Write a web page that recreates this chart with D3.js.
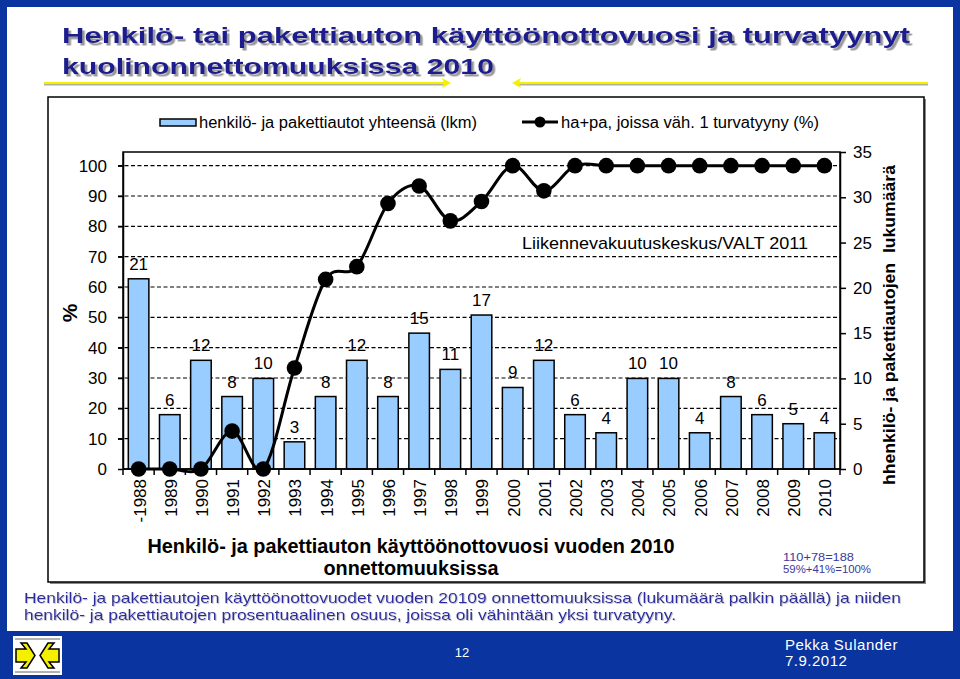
<!DOCTYPE html>
<html><head><meta charset="utf-8">
<script src="https://cdn.jsdelivr.net/npm/d3@7"></script>
<style>
html,body{margin:0;padding:0;background:#0a34a0;}
svg{display:block;}
text{font-family:"Liberation Sans",Arial,sans-serif;}
</style></head>
<body>
<svg id="c" width="960" height="679"></svg>
<script>
const categories = ["-1988","1989","1990","1991","1992","1993","1994","1995","1996","1997","1998","1999","2000","2001","2002","2003","2004","2005","2006","2007","2008","2009","2010"];
const counts = [21,6,12,8,10,3,8,12,8,15,11,17,9,12,6,4,10,10,4,8,6,5,4];
const percents = [0,0,0,12.5,0,33.3,62.5,66.7,87.5,93.3,81.8,88.2,100,91.7,100,100,100,100,100,100,100,100,100];
const leftTicks = [0,10,20,30,40,50,60,70,80,90,100];
const rightTicks = [0,5,10,15,20,25,30,35];
const titleLines = ["Henkilö- tai pakettiauton käyttöönottovuosi ja turvatyynyt","kuolinonnettomuuksissa 2010"];
const legendBar = "henkilö- ja pakettiautot yhteensä (lkm)";
const legendLine = "ha+pa, joissa väh. 1 turvatyyny (%)";
const sourceText = "Liikennevakuutuskeskus/VALT 2011";
const leftTitle = "%";
const rightTitle = "hhenkilö- ja pakettiautojen  lukumäärä";
const captionLines = ["Henkilö- ja pakettiauton käyttöönottovuosi vuoden 2010","onnettomuuksissa"];
const noteLines = ["110+78=188","59%+41%=100%"];
const footLines = ["Henkilö- ja pakettiautojen käyttöönottovuodet vuoden 20109 onnettomuuksissa (lukumäärä palkin päällä) ja niiden","henkilö- ja pakettiautojen prosentuaalinen osuus, joissa oli vähintään yksi turvatyyny."];
const pageNo = "12";
const authorLines = ["Pekka Sulander","7.9.2012"];

const svg = d3.select("#c");
const NAVY = "#1c1c8e";
const defs = svg.append("defs");
const f1 = defs.append("filter").attr("id","tshadow").attr("x","-5%").attr("y","-20%").attr("width","110%").attr("height","150%");
f1.append("feDropShadow").attr("dx",2.5).attr("dy",2.5).attr("stdDeviation",0.6).attr("flood-color","#999").attr("flood-opacity",1);
const f2 = defs.append("filter").attr("id","fshadow").attr("x","-5%").attr("y","-20%").attr("width","110%").attr("height","150%");
f2.append("feDropShadow").attr("dx",0.8).attr("dy",0.8).attr("stdDeviation",0.3).attr("flood-color","#b8b8c8").attr("flood-opacity",1);

// slide background
svg.append("rect").attr("x",0).attr("y",0).attr("width",960).attr("height",679).attr("fill","#0a34a0");
svg.append("rect").attr("x",7).attr("y",7).attr("width",946).attr("height",624).attr("fill","#ffffff");

// title with shadow
titleLines.forEach((t,i)=>{
  const y = [43,74][i];
  const len = [848,432][i];
  svg.append("text").attr("x",62).attr("y",y).text(t)
    .attr("font-family","DejaVu Sans").attr("font-weight","bold").attr("font-size",22)
    .attr("fill",NAVY).attr("filter","url(#tshadow)")
    .attr("textLength",len).attr("lengthAdjust","spacingAndGlyphs");
});
// yellow rule with arrows
function yline(x1,x2,y,col,w){svg.append("line").attr("x1",x1).attr("x2",x2).attr("y1",y).attr("y2",y).attr("stroke",col).attr("stroke-width",w);}
yline(44,446,84.5,"#b0b0a0",2); yline(516,928,84.5,"#b0b0a0",2);
yline(44,446,83,"#f2f200",2); yline(516,928,83,"#f2f200",2);
svg.append("path").attr("d","M442,78 L451,83 L442,88 L444,83 Z").attr("fill","#f2f200");
svg.append("path").attr("d","M521,78 L512,83 L521,88 L519,83 Z").attr("fill","#f2f200");

// chart box
svg.append("rect").attr("x",50).attr("y",99).attr("width",876).attr("height",485).attr("fill","#888");
svg.append("rect").attr("x",48).attr("y",97).attr("width",876).attr("height",485).attr("fill","#fff").attr("stroke","#000").attr("stroke-width",1.5);

// plot
const L=123,R=840,T=152,B=469;
const x = d3.scaleBand().domain(categories).range([L,R]).paddingInner(0.34).paddingOuter(0.17);
const yL = d3.scaleLinear().domain([0,104.5]).range([B,T]);
const yR = d3.scaleLinear().domain([0,35]).range([B,T]);
const g = svg.append("g");

// gridlines
g.selectAll("line.grid").data(leftTicks.filter(d=>d>0)).join("line")
  .attr("x1",L-5).attr("x2",R).attr("y1",d=>yL(d)).attr("y2",d=>yL(d))
  .attr("stroke","#000").attr("stroke-width",1.2).attr("stroke-dasharray","4,2.5");

// bars
g.selectAll("rect.bar").data(counts).join("rect")
  .attr("x",(d,i)=>x(categories[i])).attr("width",x.bandwidth())
  .attr("y",d=>yR(d)).attr("height",d=>B-yR(d))
  .attr("fill","#99ccff").attr("stroke","#000").attr("stroke-width",1.5);
// bar labels
g.selectAll("text.bl").data(counts).join("text")
  .attr("x",(d,i)=>x(categories[i])+x.bandwidth()/2).attr("y",d=>yR(d)-9)
  .attr("text-anchor","middle").attr("font-size",17).attr("fill","#000").text(d=>d);

// plot border
g.append("rect").attr("x",L).attr("y",T).attr("width",R-L).attr("height",B-T)
  .attr("fill","none").attr("stroke","#000").attr("stroke-width",1.5);

// axes
const axL = g.append("g").attr("transform",`translate(${L},0)`)
  .call(d3.axisLeft(yL).tickValues(leftTicks).tickSize(5).tickSizeOuter(0).tickPadding(11));
const axR = g.append("g").attr("transform",`translate(${R},0)`)
  .call(d3.axisRight(yR).tickValues(rightTicks).tickSize(6).tickSizeOuter(0).tickPadding(7));
[axL,axR].forEach(a=>{
  a.select(".domain").attr("stroke","#000").attr("stroke-width",1.5);
  a.selectAll(".tick line").attr("stroke","#000").attr("stroke-width",1.5);
  a.selectAll(".tick text").attr("font-size",17).attr("font-family","Liberation Sans, Arial").attr("fill","#000");
});
// x axis
g.append("line").attr("x1",L).attr("x2",R).attr("y1",B).attr("y2",B).attr("stroke","#000").attr("stroke-width",1.5);
const step = x.step();
g.selectAll("line.xt").data(d3.range(categories.length+1)).join("line")
  .attr("x1",i=>L+i*step).attr("x2",i=>L+i*step).attr("y1",B).attr("y2",B+6)
  .attr("stroke","#000").attr("stroke-width",1.5);
g.selectAll("text.xl").data(categories).join("text")
  .attr("transform",d=>`translate(${x(d)+x.bandwidth()/2+1},${B+10}) rotate(-90)`)
  .attr("text-anchor","end").attr("dy","0.35em").attr("font-size",17).attr("fill","#000").text(d=>d);

// line
const pts = percents.map((p,i)=>[x(categories[i])+x.bandwidth()/2, yL(p)]);
g.append("path").attr("d",d3.line().curve(d3.curveCardinal.tension(0))(pts))
  .attr("fill","none").attr("stroke","#000").attr("stroke-width",3);
g.selectAll("circle.m").data(pts).join("circle")
  .attr("cx",d=>d[0]).attr("cy",d=>d[1]).attr("r",7.8).attr("fill","#000");

// source
g.append("text").attr("x",522).attr("y",249).attr("font-size",17).attr("fill","#000")
  .attr("textLength",286).attr("lengthAdjust","spacingAndGlyphs").text(sourceText);

// axis titles
svg.append("text").attr("transform","translate(77,313) rotate(-90)").attr("text-anchor","middle")
  .attr("font-size",21).attr("font-weight","bold").text(leftTitle);
svg.append("text").attr("transform","translate(895,325) rotate(-90)").attr("text-anchor","middle")
  .attr("font-size",16).attr("font-weight","bold").attr("xml:space","preserve").style("white-space","pre")
  .attr("textLength",320).attr("lengthAdjust","spacingAndGlyphs").text(rightTitle);

// legend
svg.append("rect").attr("x",160).attr("y",119).attr("width",36).attr("height",7)
  .attr("fill","#99ccff").attr("stroke","#000").attr("stroke-width",1.5);
svg.append("text").attr("x",199).attr("y",128).attr("font-size",16).attr("textLength",278).attr("lengthAdjust","spacingAndGlyphs").text(legendBar);
svg.append("line").attr("x1",522).attr("x2",558).attr("y1",122).attr("y2",122).attr("stroke","#000").attr("stroke-width",3);
svg.append("circle").attr("cx",540).attr("cy",122).attr("r",5.5).attr("fill","#000");
svg.append("text").attr("x",561).attr("y",128).attr("font-size",16).attr("textLength",258).attr("lengthAdjust","spacingAndGlyphs").text(legendLine);

// caption
captionLines.forEach((t,i)=>{
  svg.append("text").attr("x",411).attr("y",[553,575][i]).attr("text-anchor","middle")
    .attr("font-size",20).attr("font-weight","bold")
    .attr("textLength",[527,175][i]).attr("lengthAdjust","spacingAndGlyphs").text(t);
});
noteLines.forEach((t,i)=>{
  svg.append("text").attr("x",783).attr("y",[561,573][i]).attr("font-size",11).attr("fill","#3a3a9a")
    .attr("textLength",[71,88][i]).attr("lengthAdjust","spacingAndGlyphs").text(t);
});

// footnote
footLines.forEach((t,i)=>{
  svg.append("text").attr("x",24).attr("y",[603,620][i]).attr("font-size",15).attr("fill","#2a2a9c")
    .attr("filter","url(#fshadow)")
    .attr("textLength",[877,652][i]).attr("lengthAdjust","spacingAndGlyphs").text(t);
});

// footer
svg.append("text").attr("x",462).attr("y",657).attr("text-anchor","middle").attr("font-size",13).attr("fill","#fff").text(pageNo);
authorLines.forEach((t,i)=>{
  svg.append("text").attr("x",785).attr("y",[650,666][i]).attr("font-size",15).attr("fill","#fff").attr("letter-spacing",0.5).text(t);
});
// logo
const lg = svg.append("g").attr("transform","translate(13,636)");
lg.append("rect").attr("width",49).attr("height",39).attr("fill","#fff");
lg.append("line").attr("x1",2).attr("x2",47).attr("y1",3).attr("y2",3).attr("stroke","#999").attr("stroke-width",1.5);
lg.append("line").attr("x1",2).attr("x2",47).attr("y1",36).attr("y2",36).attr("stroke","#999").attr("stroke-width",1.5);
lg.append("path").attr("d","M3,13 L13,13 L8,7 L14,7 L22,19.5 L14,32 L8,32 L13,26 L3,26 Z")
  .attr("fill","#f5f000").attr("stroke","#000").attr("stroke-width",1.5);
lg.append("path").attr("d","M46,13 L36,13 L41,7 L35,7 L27,19.5 L35,32 L41,32 L36,26 L46,26 Z")
  .attr("fill","#f5f000").attr("stroke","#000").attr("stroke-width",1.5);
</script>
</body></html>
